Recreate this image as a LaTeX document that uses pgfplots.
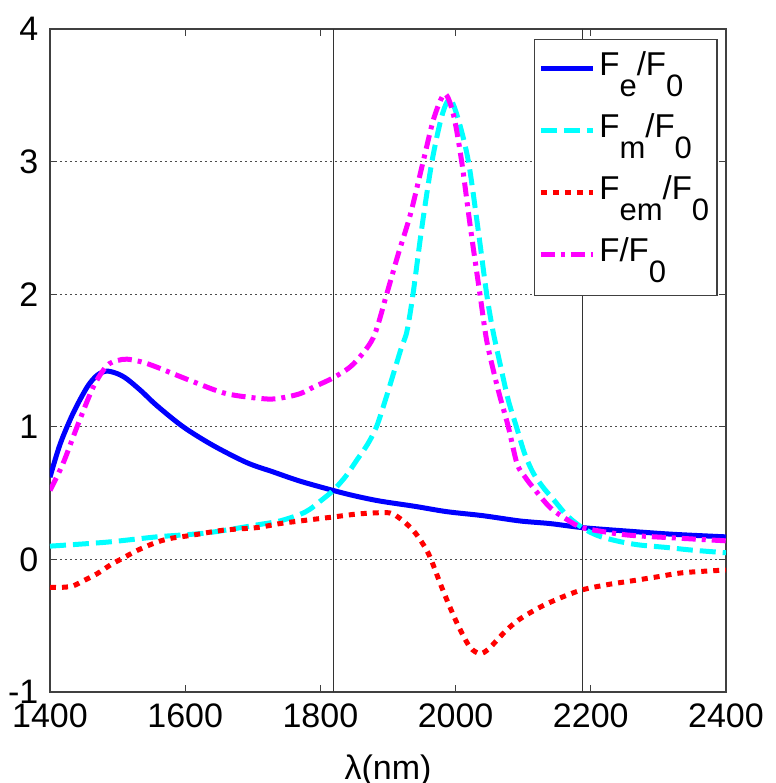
\documentclass[border=0pt]{standalone}
\usepackage{pgfplots}
\pgfplotsset{compat=1.18}
\usepackage{fontspec}
\setmainfont{Liberation Sans}
\newcommand{\sub}[1]{\raisebox{-0.62em}{\fontsize{15.5}{15.5}\selectfont #1}}
\definecolor{mblue}{rgb}{0,0,1}
\definecolor{mcyan}{rgb}{0,1,1}
\definecolor{mred}{rgb}{1,0,0}
\definecolor{mmag}{rgb}{1,0,1}
\pgfplotstableread{
x y
1400 0.62
1415 0.87
1434 1.10
1455 1.30
1470 1.39
1484 1.42
1500 1.40
1514 1.36
1535 1.27
1558 1.16
1597 1.00
1641 0.86
1691 0.73
1730 0.66
1770 0.59
1819 0.52
1850 0.48
1888 0.44
1940 0.40
1987 0.36
2040 0.33
2095 0.29
2140 0.27
2187 0.24
2250 0.215
2320 0.19
2400 0.17
}\tFe
\pgfplotstableread{
x y
1400 0.10
1484 0.13
1558 0.17
1632 0.20
1706 0.26
1740 0.29
1770 0.34
1785 0.38
1800 0.44
1819 0.52
1838 0.63
1854 0.75
1870 0.87
1883 1.00
1896 1.20
1908 1.40
1920 1.60
1928 1.72
1937 2.00
1950 2.50
1965 3.00
1980 3.35
1992 3.47
2005 3.30
2019 3.00
2033 2.50
2046 2.00
2055 1.73
2066 1.47
2078 1.20
2090 1.00
2102 0.80
2115 0.65
2130 0.54
2145 0.45
2165 0.33
2187 0.24
2210 0.18
2238 0.14
2270 0.11
2312 0.09
2350 0.07
2400 0.05
}\tFm
\pgfplotstableread{
x y
1400 -0.21
1420 -0.21
1434 -0.20
1450 -0.16
1469 -0.11
1490 -0.04
1508 0.01
1530 0.07
1558 0.13
1580 0.16
1607 0.18
1656 0.22
1706 0.24
1740 0.27
1770 0.29
1819 0.32
1850 0.34
1878 0.35
1903 0.35
1920 0.30
1937 0.22
1950 0.13
1962 0.02
1981 -0.23
2002 -0.48
2021 -0.66
2036 -0.71
2048 -0.68
2061 -0.61
2076 -0.53
2095 -0.45
2125 -0.36
2155 -0.29
2187 -0.23
2225 -0.19
2263 -0.16
2300 -0.13
2337 -0.10
2400 -0.08
}\tFem
\pgfplotstableread{
x y
1400 0.52
1419 0.72
1440 1.00
1464 1.30
1484 1.46
1500 1.50
1514 1.51
1535 1.49
1558 1.45
1607 1.35
1661 1.25
1720 1.21
1745 1.22
1770 1.25
1790 1.30
1819 1.37
1848 1.47
1878 1.67
1898 2.00
1915 2.30
1933 2.60
1952 3.00
1968 3.33
1984 3.51
1997 3.35
2009 3.00
2022 2.50
2036 2.00
2046 1.65
2058 1.38
2066 1.22
2078 1.00
2091 0.72
2103 0.62
2115 0.54
2140 0.39
2165 0.30
2187 0.24
2230 0.20
2263 0.18
2330 0.16
2400 0.14
}\tF
\begin{document}
\fontsize{17}{20}\selectfont
\begin{tikzpicture}
\path[use as bounding box] (-25pt,-45.5pt) rectangle (363pt,346pt);
\begin{axis}[
  at={(0pt,0pt)}, anchor=south west,
  scale only axis, width=338pt, height=331.5pt,
  xmin=1400, xmax=2400, ymin=-1, ymax=4,
  xtick={1400,1600,...,2400}, ytick={-1,0,...,4},
  /pgf/number format/assume math mode=true,
  /pgf/number format/1000 sep={},
  tick align=inside, major tick length=3.5pt,
  tick style={black!75, line width=0.6pt},
  axis line style={black!75, line width=0.7pt},
  ymajorgrids,
  grid style={black!70, line width=0.5pt, dash pattern=on 1pt off 1.5pt},
  xlabel={λ(nm)},
  xlabel style={yshift=-2pt},
  legend cell align=left,
  legend image code/.code={\draw (0pt,3pt) -- (26pt,3pt);},
  legend style={at={(0.988,0.985)}, anchor=north east, draw=black!75,
    line width=0.7pt, fill=white, inner xsep=2pt, inner ysep=4pt,
    font=\fontsize{16.5}{20}\selectfont,
    nodes={inner sep=2pt, text height=12pt, text depth=11pt},
    row sep=4pt, column sep=0pt},
]
\addplot[black!80, line width=0.5pt, forget plot] coordinates {(1819,-1) (1819,4)};
\addplot[black!80, line width=0.5pt, forget plot] coordinates {(2187,-1) (2187,4)};
\addplot[mblue, line width=2.5pt, smooth] table {\tFe};
\addlegendentry{F\sub{e}/F\sub{0}}
\addplot[mcyan, line width=2.5pt, smooth, dash pattern=on 8pt off 3.5pt] table {\tFm};
\addlegendentry{F\sub{m}/F\sub{0}}
\addplot[mred, line width=2.5pt, smooth, dash pattern=on 3pt off 3pt] table {\tFem};
\addlegendentry{F\sub{em}/F\sub{0}}
\addplot[mmag, line width=2.5pt, smooth, dash pattern=on 7pt off 3pt on 2pt off 3pt] table {\tF};
\addlegendentry{F/F\sub{0}}
\end{axis}
\end{tikzpicture}
\end{document}
